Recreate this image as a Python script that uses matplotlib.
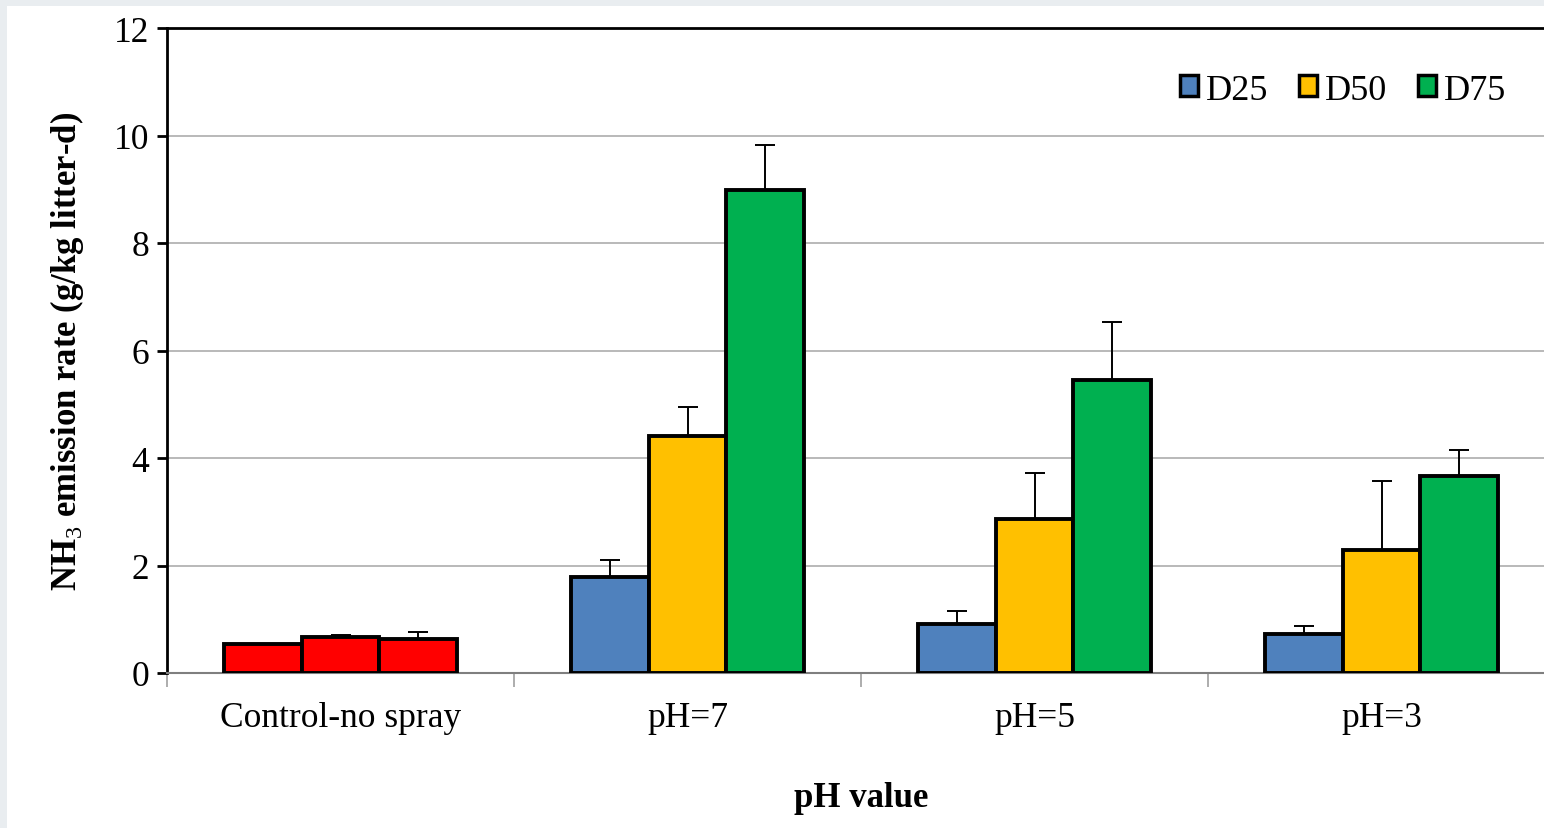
import matplotlib
matplotlib.use("Agg")
import matplotlib.pyplot as plt
import numpy as np
from matplotlib.patches import Rectangle

# values
groups = ["Control-no spray", "pH=7", "pH=5", "pH=3"]
series = ["D25", "D50", "D75"]
colors = ["#4f81bd", "#ffc000", "#00b050"]
control_vals = [0.54, 0.67, 0.63]
control_err = [0.0, 0.03, 0.13]
d25 = [1.79, 0.91, 0.73]
d50 = [4.41, 2.87, 2.29]
d75 = [8.99, 5.45, 3.67]
d25_err = [0.31, 0.24, 0.14]
d50_err = [0.54, 0.85, 1.28]
d75_err = [0.83, 1.08, 0.48]

plt.rcParams["font.family"] = ["Liberation Serif", "DejaVu Serif"]
plt.rcParams["mathtext.fontset"] = "custom"
plt.rcParams["mathtext.rm"] = "Liberation Serif"

fig = plt.figure(figsize=(15.44, 8.29), dpi=100)
fig.patch.set_facecolor("#e9edf0")
fig.patches.append(Rectangle((7 / 1544, 0), 1, 1 - 7 / 829, transform=fig.transFigure,
                             facecolor="white", edgecolor="none", zorder=-1))

ax = fig.add_axes([167 / 1544, 155 / 829, 1388 / 1544, 645 / 829])
ax.set_facecolor("white")

w = 0.223
offsets = np.array([-w, 0, w])
bar_kw = dict(width=w, edgecolor="black", linewidth=2.8, zorder=3)
err_kw = dict(ecolor="black", elinewidth=1.4, capsize=7, capthick=1.4, zorder=2)

# control group, all red
ax.bar(0 + offsets, control_vals, color="red", **bar_kw)
ax.errorbar(0 + offsets, control_vals, yerr=[np.zeros(3), control_err], fmt="none", **err_kw)

x = np.arange(1, len(groups))
for i, (vals, errs) in enumerate([(d25, d25_err), (d50, d50_err), (d75, d75_err)]):
    ax.bar(x + offsets[i], vals, color=colors[i], label=series[i], **bar_kw)
    ax.errorbar(x + offsets[i], vals, yerr=[np.zeros(len(vals)), errs], fmt="none", **err_kw)

ax.set_xlim(-0.5, len(groups) - 0.5)
ax.set_ylim(0, 12)
ax.set_yticks(np.arange(0, 13, 2))
ax.yaxis.grid(True, color="#a6a6a6", linewidth=1.1, zorder=0)
ax.set_axisbelow(True)

ax.set_xticks(np.arange(-0.5, len(groups), 1.0))
ax.set_xticklabels([])
ax.set_xticks(np.arange(len(groups)), minor=True)
ax.set_xticklabels(groups, minor=True)
ax.tick_params(axis="x", which="major", length=10, color="#a0a0a0", width=1.2, direction="out")
ax.tick_params(axis="x", which="minor", length=0, labelsize=25.5, pad=20)
ax.tick_params(axis="y", length=7, width=2, color="black", labelsize=25.5, pad=6)

for s in ["left", "top"]:
    ax.spines[s].set_linewidth(2)
    ax.spines[s].set_color("black")
ax.spines["bottom"].set_color("#7f7f7f")
ax.spines["bottom"].set_linewidth(1.5)
ax.spines["right"].set_visible(False)

ax.set_ylabel(r"NH$_3$ emission rate (g/kg litter-d)", fontsize=25, fontweight="bold", labelpad=20)
ax.set_xlabel("pH value", fontsize=25, fontweight="bold", labelpad=34)

leg = ax.legend(loc="upper right", bbox_to_anchor=(1539 / 1544, 1 - 42 / 829),
                bbox_transform=fig.transFigure, ncol=3, frameon=False, fontsize=26,
                handlelength=0.5, handleheight=0.5, handletextpad=0.22, columnspacing=0.85)
for h in leg.legend_handles:
    h.set_linewidth(2.5)

fig.savefig("out.png", dpi=100, facecolor=fig.get_facecolor())
